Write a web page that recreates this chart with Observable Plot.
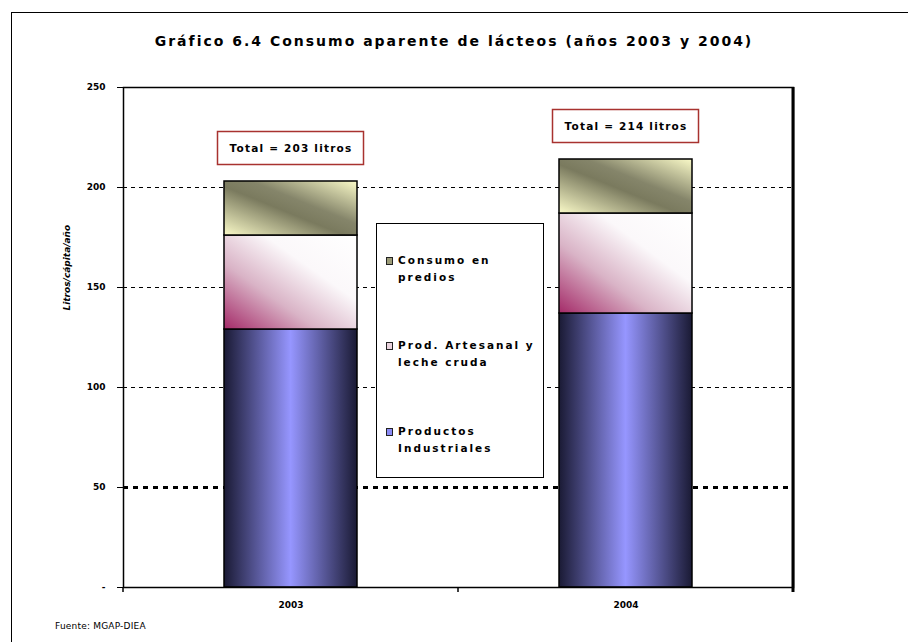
<!DOCTYPE html>
<html>
<head>
<meta charset="utf-8">
<script src="https://cdn.jsdelivr.net/npm/d3@7"></script>
<script src="https://cdn.jsdelivr.net/npm/@observablehq/plot@0.6"></script>
<style>
  html, body { margin: 0; padding: 0; background: #fff; }
  #wrap { position: relative; width: 908px; height: 642px; overflow: hidden; font-family: "DejaVu Sans", Verdana, sans-serif; }
  #outer { position: absolute; left: 11px; top: 12px; width: 920px; height: 660px; border-left: 1.5px solid #000; border-top: 1.5px solid #000; }
  #title { position: absolute; left: 0; width: 908px; top: 33px; text-align: center; font-size: 14px; font-weight: bold; letter-spacing: 2px; color: #000; }
  #source { position: absolute; left: 55px; top: 621px; font-size: 9px; color: #000; letter-spacing: 0.2px; }
  #legend { position: absolute; left: 376px; top: 223px; width: 166px; height: 253px; border: 1.5px solid #000; background: #fff; }
  .item { position: absolute; left: 9px; font-size: 10.5px; font-weight: bold; line-height: 17px; letter-spacing: 2px; color: #000; }
  .sw { position: absolute; left: 0; top: 5px; width: 5px; height: 6px; border: 1px solid #222; }
  .lbl { position: absolute; left: 12px; top: 0; white-space: nowrap; }
  #chart { position: absolute; left: 0; top: 0; }
</style>
</head>
<body>
<svg width="0" height="0" style="position:absolute">
  <defs>
    <linearGradient id="gInd" x1="0" y1="0" x2="1" y2="0">
      <stop offset="0" stop-color="#1a1a34"/>
      <stop offset="0.5" stop-color="#9696ff"/>
      <stop offset="1" stop-color="#1a1a34"/>
    </linearGradient>
    <linearGradient id="gArt" x1="0" y1="1" x2="1" y2="0">
      <stop offset="0" stop-color="#a42a68"/>
      <stop offset="0.35" stop-color="#d9b3c6"/>
      <stop offset="0.65" stop-color="#fbf8fa"/>
      <stop offset="1" stop-color="#ffffff"/>
    </linearGradient>
    <linearGradient id="gCon" x1="0" y1="1" x2="1" y2="0">
      <stop offset="0" stop-color="#fafac8"/>
      <stop offset="0.45" stop-color="#7a7a5e"/>
      <stop offset="0.6" stop-color="#85856a"/>
      <stop offset="1" stop-color="#fafac8"/>
    </linearGradient>
  </defs>
</svg>
<div id="wrap">
  <div id="outer"></div>
  <div id="title">Gráfico 6.4 Consumo aparente de lácteos (años 2003 y 2004)</div>
  <div id="chart"></div>
  <div id="legend"></div>
  <div id="source">Fuente: MGAP-DIEA</div>
</div>
<script>
// ---- Data ----
const years = ["2003", "2004"];
const productosIndustriales = [129, 137];
const prodArtesanal = [47, 50];
const consumoPredios = [27, 27];
const totales = [203, 214];
const seriesNames = ["Productos Industriales", "Prod. Artesanal y leche cruda", "Consumo en predios"];
const legendLabels = [["Consumo en", "predios"], ["Prod. Artesanal y", "leche cruda"], ["Productos", "Industriales"]];
const yTicks = [0, 50, 100, 150, 200, 250];
const yLabel = "Litros/cápita/año";

// ---- Styles ----
const fills = {
  "Productos Industriales": "url(#gInd)",
  "Prod. Artesanal y leche cruda": "url(#gArt)",
  "Consumo en predios": "url(#gCon)"
};
const swatch = {
  "Consumo en": "#9c9c78",
  "Prod. Artesanal y": "#ead3de",
  "Productos": "#8a8af5"
};

const data = [];
years.forEach((yr, i) => {
  data.push({year: yr, series: seriesNames[0], value: productosIndustriales[i]});
  data.push({year: yr, series: seriesNames[1], value: prodArtesanal[i]});
  data.push({year: yr, series: seriesNames[2], value: consumoPredios[i]});
});
const totalData = years.map((yr, i) => ({year: yr, total: totales[i]}));

// boundary ticks on x axis and thick right border, from the library scales
function decorations(index, scales, values, dims) {
  const x = scales.x, y = scales.y;
  const [r0, r1] = x.range();
  const mid = (x(years[0]) + x.bandwidth() + x(years[1])) / 2;
  const y0 = y(0), yTop = y(yTicks[yTicks.length - 1]);
  const g = d3.create("svg:g").attr("stroke", "#000");
  [r0, mid, r1].forEach(px => {
    g.append("line").attr("x1", px).attr("x2", px).attr("y1", y0).attr("y2", y0 + 5).attr("stroke-width", 1.5);
  });
  g.append("line").attr("x1", r1).attr("x2", r1).attr("y1", yTop).attr("y2", y0 + 5).attr("stroke-width", 3);
  return g.node();
}

const chart = Plot.plot({
  width: 908,
  height: 642,
  marginLeft: 123,
  marginRight: 115,
  marginTop: 87,
  marginBottom: 55,
  style: {fontFamily: "'DejaVu Sans', Verdana, sans-serif", background: "transparent"},
  x: {domain: years, paddingInner: 0.603, paddingOuter: 0.3015, label: null},
  y: {domain: [0, 250], label: null},
  color: {type: "identity"},
  marks: [
    Plot.ruleY(yTicks.filter(t => t > 50 && t < 250), {stroke: "#000", strokeWidth: 1.2, strokeDasharray: "4,4"}),
    Plot.ruleY(yTicks.filter(t => t === 50), {stroke: "#000", strokeWidth: 3, strokeDasharray: "5,5"}),
    Plot.barY(data, {x: "year", y: "value", fill: d => fills[d.series], stroke: "#000", strokeWidth: 1.5}),
    Plot.frame({stroke: "#000", strokeWidth: 1.5}),
    decorations,
    Plot.axisY({ticks: yTicks, tickFormat: d => d === 0 ? "-" : String(d), tickSize: 6, tickPadding: 12, fontSize: 9, fontWeight: "bold", label: null}),
    Plot.axisX({tickSize: 0, tickPadding: 14, fontSize: 9, fontWeight: "bold", label: null}),
    Plot.text([yLabel], {frameAnchor: "left", rotate: -90, dx: -56, dy: -27, fontSize: 9, fontWeight: "bold", fontStyle: "italic", fill: "#000"}),
    Plot.barY(totalData, {x: "year", y1: "total", y2: "total", insetLeft: -6.5, insetRight: -6.5, insetTop: -16.5, insetBottom: -16.5, dy: -33, fill: "#fff", stroke: "#a8322f", strokeWidth: 1.5}),
    Plot.text(totalData, {x: "year", y: "total", text: d => `Total = ${d.total} litros`, dy: -33, fontSize: 10.5, fontWeight: "bold", fill: "#000"})
  ]
});
document.getElementById("chart").appendChild(chart);
d3.select(chart).selectAll("text").filter(function() { return this.textContent.startsWith("Total"); })
  .style("letter-spacing", "1.2px");

// legend
const legend = document.getElementById("legend");
const itemTops = [28, 113, 199];
legendLabels.forEach((lines, i) => {
  const it = document.createElement("div");
  it.className = "item";
  it.style.top = itemTops[i] + "px";
  const sw = document.createElement("div");
  sw.className = "sw";
  sw.style.background = swatch[lines[0]];
  const lb = document.createElement("div");
  lb.className = "lbl";
  lb.innerHTML = lines.join("<br>");
  it.appendChild(sw);
  it.appendChild(lb);
  legend.appendChild(it);
});
</script>
</body>
</html>
